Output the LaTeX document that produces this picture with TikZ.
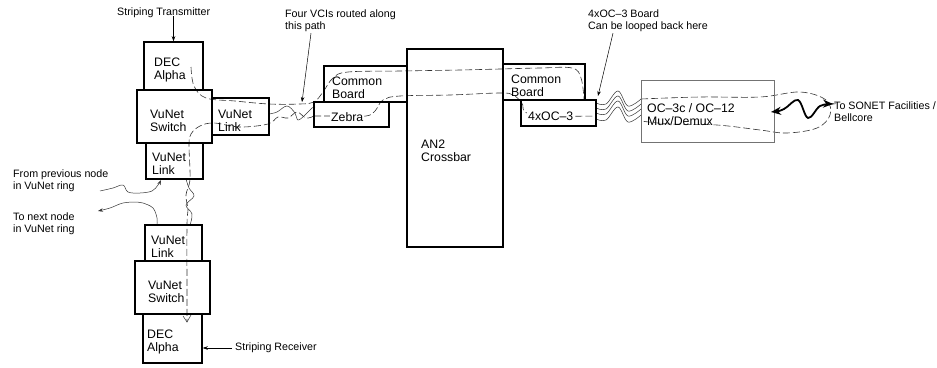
\documentclass[tikz,border=0pt]{standalone}
\usepackage{fontspec}
\setmainfont{Liberation Sans}
\usetikzlibrary{arrows.meta}
\begin{document}
\begin{tikzpicture}[x=1pt,y=-1pt,
  box/.style={draw, line width=1.5pt, inner sep=0pt},
  thinbox/.style={draw=black!55, line width=0.8pt, inner sep=0pt},
  btxt/.style={font=\fontsize{12.3}{12.5}\selectfont, align=left, anchor=west, inner sep=0pt},
  ltxt/.style={font=\fontsize{10.7}{12}\selectfont, align=left, anchor=west, inner sep=0pt},
  arr/.style={line width=0.5pt, -{Stealth[length=5pt,width=3.5pt]}},
  dsh/.style={line width=0.6pt, dash pattern=on 7pt off 3pt, black!80},
  wav/.style={line width=0.5pt, black!80},
  fatarr/.style={line width=1.8pt, {Stealth[length=10pt,width=8pt]}-{Stealth[length=10pt,width=8pt]}},
]
\useasboundingbox (0,0) rectangle (937,367);

% ---------------- dashed / wavy routes (drawn first) ----------------
% upper route
\draw[dsh] plot[smooth, tension=0.6] coordinates {(191,67) (194,86) (206,98) (235,101) (269,104) (300,104) (314,102) (323,92) (333,78) (348,72) (400,71) (460,70) (500,69) (540,68) (572,68) (581,78) (584,99)};
% lower route from the VuNet link, back through the switch and down
\draw[dsh] plot[smooth, tension=0.6] coordinates {(314,116) (306,118) (297,112) (288,118) (278,117) (268,124) (240,127) (214,123) (200,126) (191,134) (189,145) (190,179) (186,195) (188,210) (187,225) (187,300) (187,322)};
\draw[line width=0.5pt, black!80] (183,316) -- (187,322) -- (191,315);
% lower route through Zebra / AN2 / 4xOC-3
\draw[dsh] plot[smooth, tension=0.6] coordinates {(314,116) (340,116) (366,116) (375,111) (383,100) (400,96) (450,95) (500,93) (513,95) (522,103) (527,113) (560,116) (596,116)};
% wavy solid between VuNet Link and Zebra
\draw[wav] plot[smooth, tension=0.6] coordinates {(269,114) (277,112) (287,106) (295,113) (298,120) (305,115) (312,108) (315,107)};
% wavy lines between the two VuNet links
\draw[wav] plot[smooth, tension=0.6] coordinates {(186,179) (189,188) (194,196) (186,205) (192,214) (190,225)};
% ring connections
\coordinate (prevend) at (100,191);
\coordinate (nextend) at (98,211);
\draw[wav, -{Stealth[length=5pt,width=3.5pt]}] plot[smooth, tension=0.6] coordinates {(prevend) (113,188) (123,185) (128,192) (140,193) (152,191) (158,185) (161,180)};
\draw[wav, -{Stealth[length=5pt,width=3.5pt]}] plot[smooth, tension=0.6] coordinates {(157,225) (157,218) (153,208) (143,203) (137,202) (123,203) (110,208) (nextend)};
% four wavy lines 4xOC-3 -> Mux
\foreach \d [count=\i] in {0,5,10,16}{
  \draw[wav] plot[smooth, tension=0.6] coordinates {(596,103+\d) (606,104+\d) (618,91+\d) (628,106+\d) (641,99+\d)};
}
% loop inside the Mux/Demux box and out
\draw[dsh] plot[smooth, tension=0.6] coordinates {(641,99) (700,97) (760,97) (800,92) (826,100) (830,115) (817,128) (787,133) (760,130) (717,125) (670,124) (641,121)};

% ---------------- boxes ----------------
\node[box, minimum width=59pt, minimum height=48pt] (dec1) at (173.5,66) {};
\node[box, minimum width=75pt, minimum height=53pt] (sw1) at (174.5,116.5) {};
\node[box, minimum width=57pt, minimum height=37pt] (lnk1r) at (240.5,116.5) {};
\node[box, minimum width=57pt, minimum height=36pt] (lnk1b) at (174.5,161) {};
\node[box, minimum width=57pt, minimum height=36pt] (lnk2) at (173.5,243) {};
\node[box, minimum width=75pt, minimum height=53pt] (sw2) at (172.5,287.5) {};
\node[box, minimum width=59pt, minimum height=49pt] (dec2) at (172.5,338.5) {};
\node[box, minimum width=83pt, minimum height=36pt] (cbl) at (365.5,84) {};
\node[box, minimum width=75pt, minimum height=25pt] (zeb) at (351.5,114.5) {};
\node[box, minimum width=96pt, minimum height=198pt] (an2) at (455,148) {};
\node[box, minimum width=82pt, minimum height=36pt] (cbr) at (544,82) {};
\node[box, minimum width=75pt, minimum height=26pt] (oc3) at (558.5,113) {};
\node[thinbox, minimum width=133pt, minimum height=62pt] (mux) at (707.5,111) {};

% ---------------- box texts ----------------
\node[btxt] (tdec1) at (154,70) {DEC\\Alpha};
\node[btxt] (tsw1) at (150,121) {VuNet\\Switch};
\node[btxt] (tlnk1r) at (218,121) {VuNet\\Link};
\node[btxt] (tlnk1b) at (152,164) {VuNet\\Link};
\node[btxt] (tlnk2) at (151,247) {VuNet\\Link};
\node[btxt] (tsw2) at (148,292) {VuNet\\Switch};
\node[btxt] (tdec2) at (147,342) {DEC\\Alpha};
\node[btxt] (tcbl) at (332,88) {Common\\Board};
\node[btxt, fill=white, inner sep=1pt] (tzeb) at (330,117.5) {Zebra};
\node[btxt] (tan2) at (421,151) {AN2\\Crossbar};
\node[btxt] (tcbr) at (511,86) {Common\\Board};
\node[btxt, fill=white, inner sep=1pt] (toc3) at (527,116.5) {4xOC–3};
\node[btxt] (tmux) at (647,114.5) {OC–3c / OC–12\\Mux/Demux};

% ---------------- outside labels ----------------
\node[ltxt] (stT) at (117,13) {Striping Transmitter};
\node[ltxt] (vci) at (285,21) {Four VCIs routed along\\this path};
\node[ltxt] (board) at (588,21) {4xOC–3 Board\\Can be looped back here};
\node[ltxt] (prev) at (13,181) {From previous node\\in VuNet ring};
\node[ltxt] (next) at (13,224) {To next node\\in VuNet ring};
\node[ltxt] (stR) at (235,348) {Striping Receiver};
\node[ltxt] (sonet) at (834,112) {To SONET Facilities /\\Bellcore};

% ---------------- annotation arrows ----------------
\draw[arr] (dec1.north |- stT.south) ++(0,-2) -- (dec1.north);
\draw[arr] ([xshift=-3pt]stR.west) -- (stR.west -| dec2.east);
\coordinate (vcitip) at (302,102);
\draw[arr] ([xshift=26pt,yshift=-1pt]vci.south west) -- (vcitip);
\coordinate (boardtip) at (598,96);
\draw[arr] ([xshift=25pt,yshift=-1pt]board.south west) -- (boardtip);
% thick wavy double arrow
\coordinate (fatL) at (771,112);
\coordinate (fatR) at (833,104);
\draw[fatarr] plot[smooth, tension=0.6] coordinates {(fatL) (784,109) (798,100) (808,118) (820,106) (fatR)};
\end{tikzpicture}
\end{document}
